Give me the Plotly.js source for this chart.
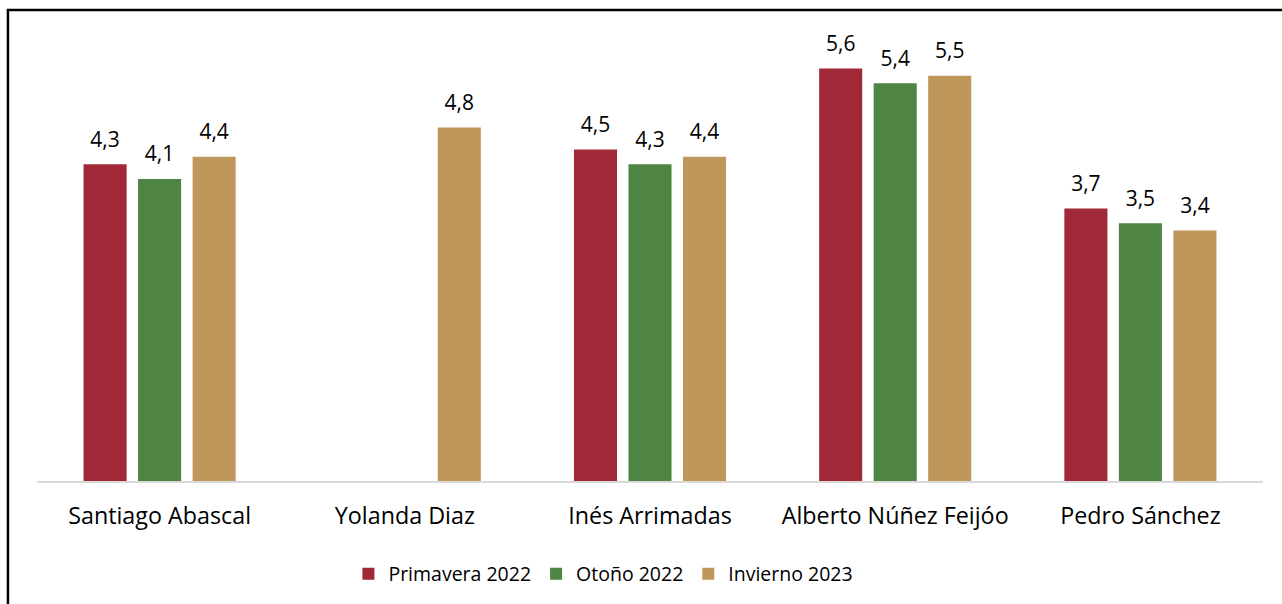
<!DOCTYPE html>
<html>
<head>
<meta charset="utf-8">
<script src="https://cdn.plot.ly/plotly-3.0.1.min.js"></script>
<style>
html,body{margin:0;padding:0;background:#fff;}
#chart{width:1282px;height:604px;}
</style>
</head>
<body>
<div id="chart"></div>
<script>
const categories = ["Santiago Abascal", "Yolanda Diaz", "Inés Arrimadas", "Alberto Núñez Feijóo", "Pedro Sánchez"];
const seriesNames = ["Primavera 2022", "Otoño 2022", "Invierno 2023"];
const primavera2022 = [4.3, null, 4.5, 5.6, 3.7];
const otono2022 = [4.1, null, 4.3, 5.4, 3.5];
const invierno2023 = [4.4, 4.8, 4.4, 5.5, 3.4];
const colors = ["#A12837", "#4E8542", "#C0975A"];

const FONT = "'Open Sans', sans-serif";
const values = [primavera2022, otono2022, invierno2023];
const traces = [];
values.forEach((v, i) => {
  traces.push({
    type: "bar",
    name: seriesNames[i],
    x: categories,
    y: v,
    offsetgroup: "g" + i,
    alignmentgroup: "a",
    marker: {color: colors[i]},
    hoverinfo: "skip"
  });
});
values.forEach((v, i) => {
  traces.push({
    type: "scatter",
    mode: "text+markers",
    x: categories,
    y: v,
    offsetgroup: "g" + i,
    alignmentgroup: "a",
    marker: {size: 18, opacity: 0, color: colors[i]},
    text: v.map(d => d == null ? "" : d.toFixed(1).replace(".", ",")),
    textposition: "top center",
    textfont: {family: FONT, size: 21, color: "#000"},
    cliponaxis: false,
    showlegend: false,
    hoverinfo: "skip"
  });
});

const layout = {
  width: 1282, height: 604,
  margin: {l: 37, r: 19, t: 39, b: 122},
  paper_bgcolor: "#fff", plot_bgcolor: "#fff",
  separators: ",.",
  barmode: "group",
  bargap: 0.333,
  bargroupgap: 0.21,
  scattermode: "group",
  scattergap: 0.333,
  font: {family: FONT, size: 20, color: "#000"},
  xaxis: {
    showline: true, linecolor: "#D9D9D9", linewidth: 2,
    ticks: "outside", ticklen: 13, tickcolor: "rgba(0,0,0,0)",
    tickfont: {family: FONT, size: 23.3, color: "#000"},
    fixedrange: true
  },
  yaxis: {range: [0, 6], visible: false, fixedrange: true},
  showlegend: true,
  legend: {
    orientation: "h", x: 0.254, xanchor: "left", y: -0.2077, yanchor: "middle",
    font: {family: FONT, size: 19.5, color: "#000"},
    traceorder: "normal"
  },
  shapes: [{
    type: "rect", xref: "paper", yref: "paper",
    x0: -0.0237, x1: 2, y0: -2, y1: 1.0655,
    line: {color: "#000", width: 2.5}, fillcolor: "rgba(0,0,0,0)", layer: "below"
  }]
};

Plotly.newPlot("chart", traces, layout, {displayModeBar: false, staticPlot: true});
</script>
</body>
</html>
